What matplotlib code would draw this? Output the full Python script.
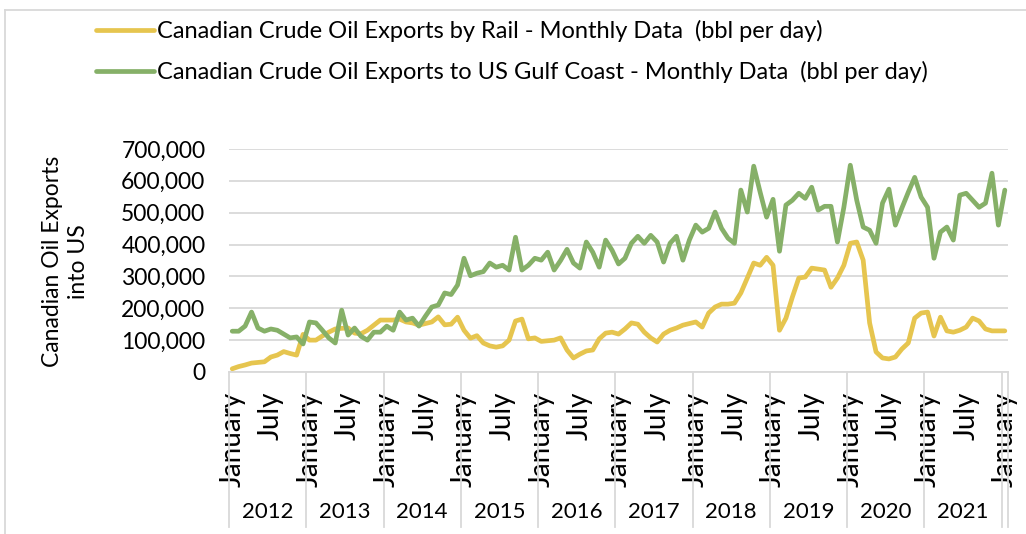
import matplotlib
matplotlib.use('Agg')
import matplotlib.pyplot as plt
import matplotlib.transforms as mtransforms
from matplotlib.lines import Line2D
import numpy as np

plt.rcParams['font.family'] = ['Lato', 'DejaVu Sans']

# monthly values, Jan 2012 .. Jan 2022 (thousand bbl per day)
rail = [10, 17, 22, 28, 30, 32, 47, 53, 64, 58, 53, 118,
        100, 100, 113, 125, 135, 137, 138, 122, 120, 131, 147, 163,
        163, 163, 166, 157, 154, 147, 152, 157, 173, 148, 150, 172,
        131, 106, 114, 91, 82, 78, 82, 100, 160, 166, 104, 107,
        96, 98, 100, 107, 69, 44, 56, 66, 69, 104, 122, 125,
        119, 135, 154, 150, 125, 107, 94, 119, 131, 138, 147, 152,
        157, 141, 185, 204, 213, 213, 216, 248, 295, 342, 335, 360,
        335, 131, 169, 235, 295, 298, 326, 323, 320, 266, 295, 335,
        404, 408, 351, 154, 63, 44, 41, 47, 72, 91, 169, 185,
        188, 113, 172, 129, 125, 131, 141, 169, 160, 135, 129, 129,
        129]
gulf = [128, 128, 144, 188, 138, 128, 135, 131, 119, 107, 110, 88,
        157, 154, 131, 107, 91, 194, 116, 138, 112, 100, 125, 125,
        144, 131, 188, 163, 169, 144, 175, 204, 210, 248, 243, 273,
        357, 302, 310, 315, 342, 329, 335, 320, 423, 320, 335, 357,
        351, 376, 320, 350, 385, 342, 326, 408, 376, 329, 414, 382,
        339, 357, 404, 426, 404, 429, 408, 345, 404, 426, 351, 414,
        461, 439, 451, 502, 451, 420, 404, 571, 502, 646, 564, 486,
        542, 379, 524, 539, 561, 545, 580, 508, 520, 520, 408, 517,
        649, 539, 455, 445, 404, 530, 574, 461, 514, 564, 611, 549,
        517, 357, 439, 455, 414, 555, 561, 539, 517, 530, 624, 461,
        571]
rail = np.array(rail) * 1000
gulf = np.array(gulf) * 1000

years = ['2012', '2013', '2014', '2015', '2016', '2017', '2018', '2019', '2020', '2021']
month_names = ['January', 'July']

rail_label = 'Canadian Crude Oil Exports by Rail - Monthly Data  (bbl per day)'
gulf_label = 'Canadian Crude Oil Exports to US Gulf Coast - Monthly Data  (bbl per day)'
yellow = '#E6C54F'
green = '#86B068'
grey = '#D9D9D9'

fig = plt.figure(figsize=(10.26, 5.34), dpi=100)
ax = fig.add_axes([0.2232, 0.3034, 0.7593, 0.4176])

x = np.arange(len(rail))
ax.plot(x, rail, color=yellow, lw=3.4, solid_joinstyle='round', solid_capstyle='round', label=rail_label)
ax.plot(x, gulf, color=green, lw=3.4, solid_joinstyle='round', solid_capstyle='round', label=gulf_label)

ax.set_xlim(-0.5, len(rail) - 0.5)
ax.set_ylim(0, 700000)
ax.set_yticks(np.arange(0, 700001, 100000))
ax.yaxis.set_major_formatter(matplotlib.ticker.FuncFormatter(lambda v, p: f'{int(v):,}'))
ax.yaxis.grid(True, color=grey, lw=1.3)
ax.set_axisbelow(True)
for s in ['left', 'right', 'top']:
    ax.spines[s].set_visible(False)
ax.spines['bottom'].set_color(grey)
ax.spines['bottom'].set_linewidth(1.3)
ax.tick_params(axis='y', length=0, pad=17, labelsize=16.5)

ticks = np.arange(0, len(rail), 6)
ax.set_xticks(ticks)
ax.set_xticklabels([month_names[i % 2] for i in range(len(ticks))], rotation=90, fontsize=20)
ax.tick_params(axis='x', length=0, pad=14)

trans = mtransforms.blended_transform_factory(ax.transData, ax.transAxes)
for k, yr in enumerate(years):
    ax.text(12 * k + 5.5, -0.628, yr, transform=trans, ha='center', va='center', fontsize=16)
seps = [12 * k - 0.5 for k in range(len(years) + 1)] + [len(rail) - 0.5]
for s in seps:
    ax.plot([s, s], [0, -0.695], transform=trans, clip_on=False, color=grey, lw=1.3)

fig.text(0.064, 0.51, 'Canadian Oil Exports\ninto US', rotation=90, ha='center', va='center',
         fontsize=16.5, multialignment='center', linespacing=1.28)

fig.legend(loc='upper left', bbox_to_anchor=(0.094, 0.962), frameon=False, fontsize=17,
           handlelength=2.45, handletextpad=0.1, labelspacing=0.78, borderaxespad=0, borderpad=0)

# chart border
fig.add_artist(Line2D([5 / 1026, 1], [1 - 10 / 534, 1 - 10 / 534], transform=fig.transFigure, color=grey, lw=1.3))
fig.add_artist(Line2D([5 / 1026, 5 / 1026], [0, 1 - 10 / 534], transform=fig.transFigure, color=grey, lw=1.3))

fig.savefig('out.png', dpi=100)
